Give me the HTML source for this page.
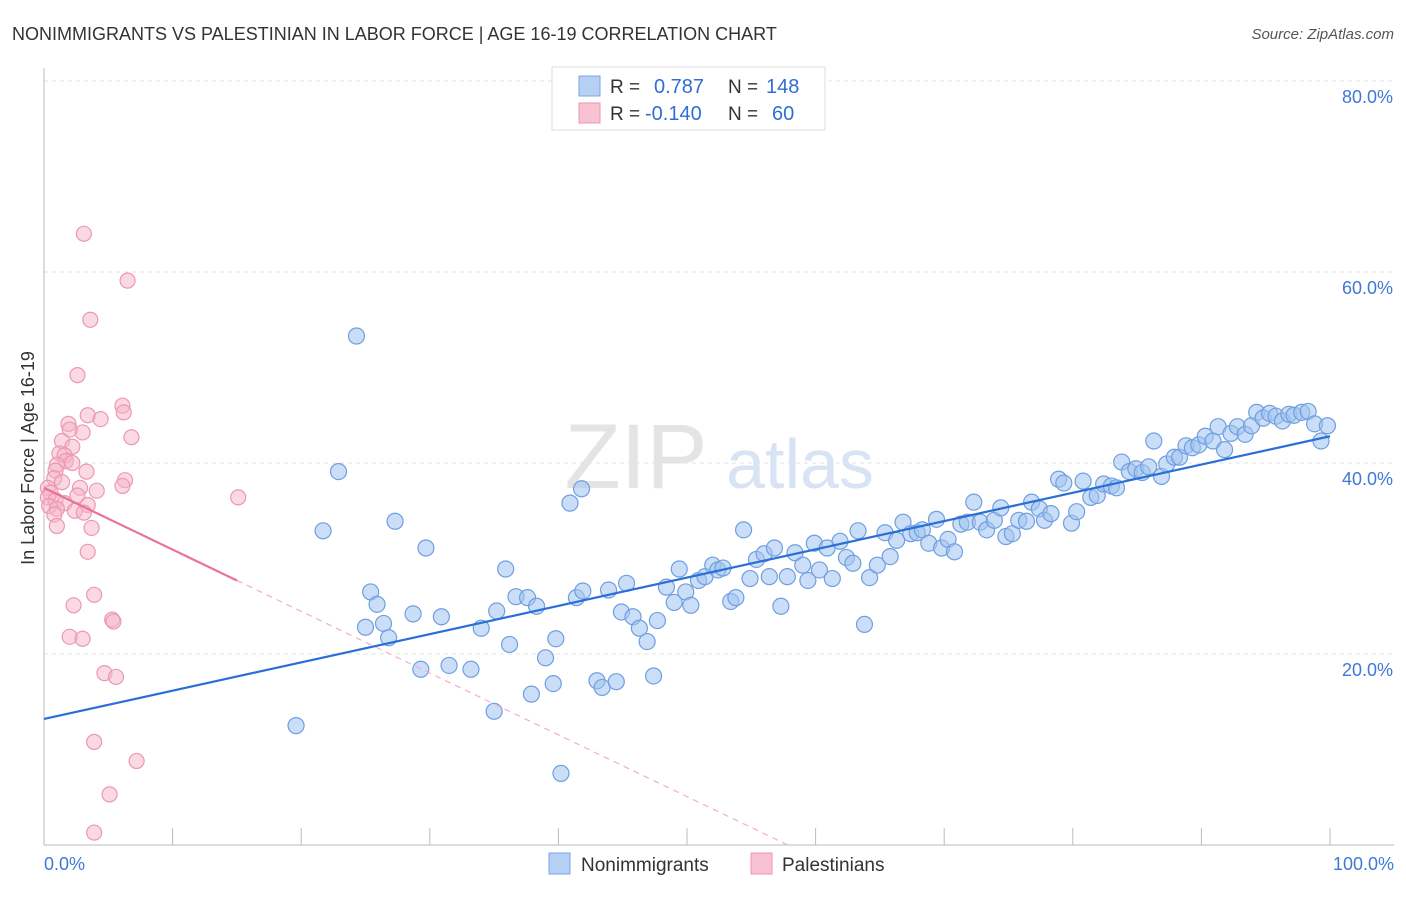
<!DOCTYPE html>
<html><head><meta charset="utf-8"><style>
body{margin:0;background:#fff;font-family:"Liberation Sans",sans-serif}
svg text{font-family:"Liberation Sans",sans-serif}
</style></head><body>
<svg id="chart" width="1406" height="892">
<text x="12" y="40" font-size="18" fill="#333">NONIMMIGRANTS VS PALESTINIAN IN LABOR FORCE | AGE 16-19 CORRELATION CHART</text>
<text x="1394" y="39" font-size="15" fill="#555" font-style="italic" text-anchor="end">Source: ZipAtlas.com</text>
<g id="grid"></g>
<g><text x="636" y="488" font-size="92" fill="#e4e4e4" font-family="Liberation Serif" text-anchor="middle">ZIP</text><text x="800" y="488" font-size="70" fill="#d8e4f4" text-anchor="middle">atlas</text></g>
<g id="axes"></g>
<g id="pts"></g>
<g id="lines"></g>
<text transform="translate(34,458) rotate(-90)" font-size="18" fill="#333" text-anchor="middle">In Labor Force | Age 16-19</text>
<g>
<rect x="552" y="67" width="273" height="63" fill="#fff" stroke="#ddd"/>
<rect x="579" y="76" width="21" height="20" fill="#b5d0f3" stroke="#7aa6e4"/>
<rect x="579" y="103" width="21" height="20" fill="#f8c2d2" stroke="#ec95b0"/>
<text x="610" y="93" font-size="19" fill="#333">R =</text><text x="654" y="93" font-size="20" fill="#2f6fd4">0.787</text>
<text x="728" y="93" font-size="19" fill="#333">N =</text><text x="766" y="93" font-size="20" fill="#2f6fd4">148</text>
<text x="610" y="120" font-size="19" fill="#333">R =</text><text x="645" y="120" font-size="20" fill="#2f6fd4">-0.140</text>
<text x="728" y="120" font-size="19" fill="#333">N =</text><text x="772" y="120" font-size="20" fill="#2f6fd4">60</text>
</g>
<g>
<rect x="549" y="853" width="21" height="21" fill="#b5d0f3" stroke="#7aa6e4"/>
<text x="581" y="871" font-size="19" fill="#333">Nonimmigrants</text>
<rect x="751" y="853" width="21" height="21" fill="#f8c2d2" stroke="#ec95b0"/>
<text x="782" y="871" font-size="19" fill="#333">Palestinians</text>
</g>
</svg>
<script>
const blueX=[24.3,19.6,21.7,22.9,27.3,29.7,25.4,25.9,25.0,26.4,26.8,28.7,29.3,30.9,31.5,33.2,34.0,35.0,35.2,35.9,36.2,36.7,37.6,38.3,37.9,39.0,39.6,39.8,40.2,40.9,41.8,41.4,41.9,43.0,43.4,43.9,44.5,44.9,45.3,45.8,46.3,46.9,47.4,47.7,48.4,49.0,49.4,49.9,50.3,50.9,51.4,52.0,52.4,52.8,53.4,53.8,54.4,54.9,55.4,56.0,56.4,56.8,57.3,57.8,58.4,59.0,59.4,59.9,60.3,60.9,61.3,61.9,62.4,62.9,63.3,63.8,64.2,64.8,65.4,65.8,66.3,66.8,67.4,67.9,68.3,68.8,69.4,69.8,70.3,70.8,71.3,71.8,72.3,72.8,73.3,73.9,74.4,74.8,75.3,75.8,76.4,76.8,77.4,77.8,78.3,78.9,79.3,79.9,80.3,80.8,81.4,81.9,82.4,83.0,83.4,83.8,84.4,84.9,85.4,85.9,86.3,86.9,87.3,87.9,88.3,88.8,89.3,89.8,90.3,90.9,91.3,91.8,92.3,92.8,93.4,93.9,94.3,94.8,95.3,95.8,96.3,96.8,97.2,97.8,98.3,98.8,99.3,99.8];
const blueY=[53.3,12.5,32.9,39.1,33.9,31.1,26.5,25.2,22.8,23.2,21.7,24.2,18.4,23.9,18.8,18.4,22.7,14.0,24.5,28.9,21.0,26.0,25.9,25.0,15.8,19.6,16.9,21.6,7.5,35.8,37.3,25.9,26.6,17.2,16.5,26.7,17.1,24.4,27.4,23.9,22.7,21.3,17.7,23.5,27.0,25.4,28.9,26.5,25.1,27.7,28.1,29.3,28.8,29.0,25.5,25.9,33.0,27.9,29.9,30.5,28.1,31.1,25.0,28.1,30.6,29.3,27.7,31.6,28.8,31.1,27.9,31.8,30.1,29.5,32.9,23.1,28.0,29.3,32.7,30.2,31.9,33.8,32.6,32.7,33.0,31.6,34.1,31.1,32.0,30.7,33.6,33.8,35.9,33.8,33.0,34.0,35.3,32.3,32.6,34.0,33.9,35.9,35.2,34.0,34.7,38.3,37.9,33.7,34.9,38.1,36.4,36.6,37.8,37.6,37.4,40.1,39.1,39.4,39.0,39.6,42.3,38.6,39.9,40.6,40.6,41.8,41.6,41.9,42.8,42.3,43.8,41.4,43.1,43.8,43.0,43.9,45.3,44.7,45.2,44.9,44.4,45.1,45.0,45.3,45.4,44.1,42.3,43.9];
const pinkX=[3.1,6.5,3.6,2.6,6.1,6.2,3.4,4.4,1.9,3.0,2.0,6.8,1.4,2.2,1.2,1.6,1.7,2.2,1.0,0.9,3.3,6.3,0.8,1.4,0.3,2.8,6.1,4.1,0.5,2.6,15.1,0.3,0.9,1.6,3.4,0.4,1.0,2.4,3.1,0.8,1.0,3.7,3.4,3.9,2.3,5.3,5.4,2.0,3.0,4.7,5.6,3.9,7.2,5.1,3.9];
const pinkY=[64.0,59.1,55.0,49.2,46.0,45.3,45.0,44.6,44.1,43.2,43.5,42.7,42.3,41.7,41.0,40.8,40.2,40.0,39.8,39.2,39.1,38.2,38.4,38.0,37.4,37.4,37.6,37.1,36.9,36.6,36.4,36.4,36.1,35.8,35.6,35.5,35.2,35.0,34.8,34.6,33.4,33.2,30.7,26.2,25.1,23.6,23.4,21.8,21.6,18.0,17.6,10.8,8.8,5.3,1.3];
const blueTrend=[13.2,42.8];
const pinkTrend=[37.4,27.7];
const yTicks=[20,40,60,80];
const xTickLabels=["0.0%","100.0%"];
const NS="http://www.w3.org/2000/svg";
const X=v=>44+v*12.86, Y=v=>845-v*9.55;
function mk(p,t,a){const e=document.createElementNS(NS,t);for(const k in a)e.setAttribute(k,a[k]);p.appendChild(e);return e;}
const grid=document.getElementById('grid'),axes=document.getElementById('axes'),pts=document.getElementById('pts'),lines=document.getElementById('lines');
yTicks.forEach(t=>{
 const l=mk(grid,'line',{x1:44,x2:1394,y1:Y(t),y2:Y(t),stroke:'#e2e2e2','stroke-dasharray':'4,4'});
 
 
 const tx=mk(axes,'text',{x:1393,y:Y(t)+22,'font-size':18,fill:'#3f78d6','text-anchor':'end'});tx.textContent=t.toFixed(1)+'%';
 
 
});
mk(axes,'line',{x1:44,x2:44,y1:68,y2:845,stroke:'#bbb'});
mk(axes,'line',{x1:44,x2:1394,y1:845,y2:845,stroke:'#bbb'});
for(let i=0;i<=10;i++){mk(axes,'line',{x1:X(i*10),x2:X(i*10),y1:828,y2:845,stroke:'#bbb'});}
const xl0=mk(axes,'text',{x:44,y:870,'font-size':18,fill:'#3f78d6'});xl0.textContent=xTickLabels[0];


const xl1=mk(axes,'text',{x:1394,y:870,'font-size':18,fill:'#3f78d6','text-anchor':'end'});xl1.textContent=xTickLabels[1];


pinkX.forEach((x,i)=>{const c=mk(pts,'circle',{cx:X(x),cy:Y(pinkY[i]),r:7.5,fill:'rgba(246,180,200,0.5)',stroke:'#eb98b2','stroke-width':1.2});
 
 });
blueX.forEach((x,i)=>{const c=mk(pts,'circle',{cx:X(x),cy:Y(blueY[i]),r:8,fill:'rgba(160,195,240,0.55)',stroke:'#6f9fe0','stroke-width':1.2});
 
 });
const bl=mk(lines,'line',{x1:X(0),y1:Y(blueTrend[0]),x2:X(100),y2:Y(blueTrend[1]),stroke:'#2a6fd6','stroke-width':2.2});


const slope=(pinkTrend[1]-pinkTrend[0])/15, xz=-pinkTrend[0]/slope;
const pd=mk(lines,'line',{x1:X(15),y1:Y(pinkTrend[1]),x2:X(xz),y2:Y(0),stroke:'#f0b0c4','stroke-width':1.2,'stroke-dasharray':'6,5'});


const pl=mk(lines,'line',{x1:X(0),y1:Y(pinkTrend[0]),x2:X(15),y2:Y(pinkTrend[1]),stroke:'#e8739a','stroke-width':2.2});


</script>
</body></html>
